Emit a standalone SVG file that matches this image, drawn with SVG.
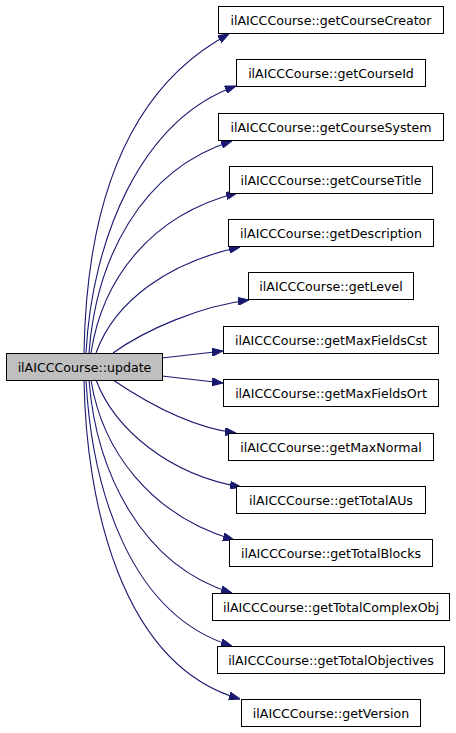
<svg xmlns="http://www.w3.org/2000/svg" width="456" height="733" viewBox="0 0 456 733">
<defs>
<style>
.n rect{fill:#ffffff;stroke:#000000;stroke-width:1}
.n.root rect{fill:#bfbfbf}
.n text{font-family:"DejaVu Sans",sans-serif;font-size:12.6px;fill:#000000;text-anchor:middle}
.e path{fill:none;stroke:#191970;stroke-width:1.1;marker-end:url(#ah)}
</style>
<marker id="ah" viewBox="0 0 11 8" refX="11" refY="4" markerWidth="11" markerHeight="8" markerUnits="userSpaceOnUse" orient="auto">
<path d="M0,0 L11,4 L0,8 Z" fill="#191970" stroke="#191970" stroke-width="1"/>
</marker>
</defs>
<rect width="456" height="733" fill="#ffffff"/>
<g id="connectors" class="e">
<path d="M84,353 C86,230 115,95 229,34"/>
<path d="M86,353 C92,240 140,120 236,86"/>
<path d="M89,353 C96,260 140,170 232,141"/>
<path d="M91,353 C102,280 150,215 237,193"/>
<path d="M96,353 C115,300 170,262 240,247"/>
<path d="M113,353 C145,330 200,306 249,300"/>
<path d="M162,358 L223,351"/>
<path d="M162,376 L223,383"/>
<path d="M113,380 C150,405 195,428 236,433"/>
<path d="M96,380 C115,430 170,475 241,487"/>
<path d="M91,380 C102,450 150,515 234,540"/>
<path d="M89,380 C96,470 140,565 232,593"/>
<path d="M86,380 C92,490 130,615 232,646"/>
<path d="M84,380 C86,500 120,665 240,699"/>
</g>
<g id="update" class="n root"><rect x="6.5" y="353.5" width="156" height="27"/><text x="84.5" y="371.5">ilAICCCourse::update</text></g>
<g id="getCourseCreator" class="n"><rect x="218.5" y="6.5" width="225" height="27"/><text x="331" y="24.5">ilAICCCourse::getCourseCreator</text></g>
<g id="getCourseId" class="n"><rect x="236.5" y="59.5" width="189" height="27"/><text x="331" y="77.5">ilAICCCourse::getCourseId</text></g>
<g id="getCourseSystem" class="n"><rect x="218.5" y="113.5" width="225" height="27"/><text x="331" y="131.5">ilAICCCourse::getCourseSystem</text></g>
<g id="getCourseTitle" class="n"><rect x="229.5" y="166.5" width="203" height="27"/><text x="331" y="184.5">ilAICCCourse::getCourseTitle</text></g>
<g id="getDescription" class="n"><rect x="228.5" y="219.5" width="205" height="27"/><text x="331" y="237.5">ilAICCCourse::getDescription</text></g>
<g id="getLevel" class="n"><rect x="248.5" y="272.5" width="165" height="27"/><text x="331" y="290.5">ilAICCCourse::getLevel</text></g>
<g id="getMaxFieldsCst" class="n"><rect x="223.5" y="326.5" width="215" height="27"/><text x="331" y="344.5">ilAICCCourse::getMaxFieldsCst</text></g>
<g id="getMaxFieldsOrt" class="n"><rect x="223.5" y="379.5" width="215" height="27"/><text x="331" y="397.5">ilAICCCourse::getMaxFieldsOrt</text></g>
<g id="getMaxNormal" class="n"><rect x="228.5" y="433.5" width="205" height="27"/><text x="331" y="451.5">ilAICCCourse::getMaxNormal</text></g>
<g id="getTotalAUs" class="n"><rect x="236.5" y="486.5" width="189" height="27"/><text x="331" y="504.5">ilAICCCourse::getTotalAUs</text></g>
<g id="getTotalBlocks" class="n"><rect x="229.5" y="539.5" width="203" height="27"/><text x="331" y="557.5">ilAICCCourse::getTotalBlocks</text></g>
<g id="getTotalComplexObj" class="n"><rect x="212.5" y="593.5" width="237" height="27"/><text x="331" y="611.5">ilAICCCourse::getTotalComplexObj</text></g>
<g id="getTotalObjectives" class="n"><rect x="217.5" y="646.5" width="227" height="27"/><text x="331" y="664.5">ilAICCCourse::getTotalObjectives</text></g>
<g id="getVersion" class="n"><rect x="241.5" y="699.5" width="179" height="27"/><text x="331" y="717.5">ilAICCCourse::getVersion</text></g>
</svg>
